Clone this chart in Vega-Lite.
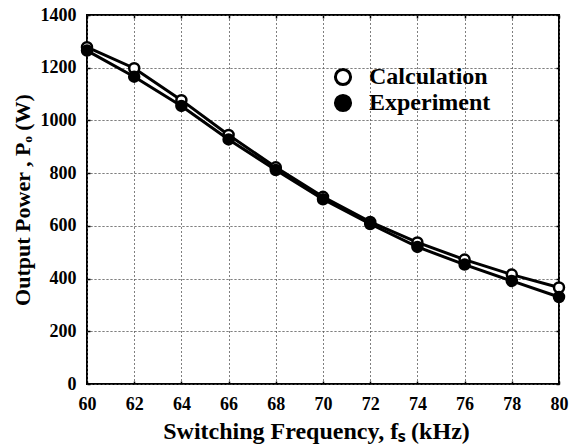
{
  "$schema": "https://vega.github.io/schema/vega-lite/v6.json",
  "autosize": {"type": "none"},
  "width": 472,
  "height": 369,
  "padding": {"left": 87, "top": 15, "right": 12, "bottom": 61},
  "background": "white",
  "config": {
    "view": {"stroke": "black", "strokeWidth": 2},
    "font": "Liberation Serif"
  },
  "data": {"values": [
    {"f": 60, "P": 1278, "series": "Calculation"},
    {"f": 62, "P": 1198, "series": "Calculation"},
    {"f": 64, "P": 1077, "series": "Calculation"},
    {"f": 66, "P": 945, "series": "Calculation"},
    {"f": 68, "P": 822, "series": "Calculation"},
    {"f": 70, "P": 710, "series": "Calculation"},
    {"f": 72, "P": 615, "series": "Calculation"},
    {"f": 74, "P": 537, "series": "Calculation"},
    {"f": 76, "P": 472, "series": "Calculation"},
    {"f": 78, "P": 415, "series": "Calculation"},
    {"f": 80, "P": 366, "series": "Calculation"},
    {"f": 60, "P": 1265, "series": "Experiment"},
    {"f": 62, "P": 1166, "series": "Experiment"},
    {"f": 64, "P": 1055, "series": "Experiment"},
    {"f": 66, "P": 928, "series": "Experiment"},
    {"f": 68, "P": 812, "series": "Experiment"},
    {"f": 70, "P": 701, "series": "Experiment"},
    {"f": 72, "P": 607, "series": "Experiment"},
    {"f": 74, "P": 520, "series": "Experiment"},
    {"f": 76, "P": 453, "series": "Experiment"},
    {"f": 78, "P": 391, "series": "Experiment"},
    {"f": 80, "P": 330, "series": "Experiment"}
  ]},
  "resolve": {"axis": {"x": "independent", "y": "independent"}},
  "layer": [
    {
      "mark": {"type": "line", "color": "black", "strokeWidth": 3},
      "encoding": {
        "x": {"field": "f", "type": "quantitative", "scale": {"domain": [60, 80], "nice": false},
              "axis": {"values": [60,62,64,66,68,70,72,74,76,78,80], "format": "d", "title": "Switching Frequency, fₛ (kHz)",
                       "labelFont": "Liberation Serif", "labelFontWeight": "bold", "labelFontSize": 18, "labelColor": "black", "labelFlush": false,
                       "titleFont": "Liberation Serif", "titleFontWeight": "bold", "titleFontSize": 24, "titleColor": "black",
                       "grid": true, "gridColor": "#555555", "gridDash": [1, 3], "gridWidth": 1, "gridOpacity": 1,
                       "domain": false, "ticks": true, "tickColor": "black", "tickSize": -3, "tickWidth": 1.5,
                       "labelPadding": 14, "titleX": 229, "titleY": 54, "titleBaseline": "alphabetic"}},
        "y": {"field": "P", "type": "quantitative", "scale": {"domain": [0, 1400], "nice": false},
              "axis": {"values": [0,200,400,600,800,1000,1200,1400], "format": "d", "title": "Output Power , Pₒ (W)",
                       "labelFont": "Liberation Serif", "labelFontWeight": "bold", "labelFontSize": 18, "labelColor": "black", "labelFlush": false,
                       "titleFont": "Liberation Serif", "titleFontWeight": "bold", "titleFontSize": 22, "titleColor": "black",
                       "grid": true, "gridColor": "#555555", "gridDash": [1, 3], "gridWidth": 1, "gridOpacity": 1,
                       "domain": false, "ticks": true, "tickColor": "black", "tickSize": -3, "tickWidth": 1.5,
                       "labelPadding": 14, "titleX": -58, "titleBaseline": "alphabetic"}},
        "detail": {"field": "series"}
      }
    },
    {
      "mark": {"type": "point", "filled": true, "stroke": "black", "strokeWidth": 2.5, "size": 100, "opacity": 1},
      "encoding": {
        "x": {"field": "f", "type": "quantitative",
              "axis": {"orient": "top", "values": [60,62,64,66,68,70,72,74,76,78,80], "labels": false, "title": null,
                       "grid": true, "gridColor": "#555555", "gridDash": [1, 3], "gridWidth": 1, "gridOpacity": 1,
                       "domain": false, "ticks": true, "tickColor": "black", "tickSize": -3, "tickWidth": 1.5}},
        "y": {"field": "P", "type": "quantitative",
              "axis": {"orient": "right", "values": [0,200,400,600,800,1000,1200,1400], "labels": false, "title": null,
                       "grid": true, "gridColor": "#555555", "gridDash": [1, 3], "gridWidth": 1, "gridOpacity": 1,
                       "domain": false, "ticks": true, "tickColor": "black", "tickSize": -3, "tickWidth": 1.5}},
        "fill": {"field": "series", "type": "nominal", "scale": {"domain": ["Calculation", "Experiment"], "range": ["white", "black"]},
                 "legend": {"title": null, "orient": "none", "legendX": 244, "legendY": 50, "symbolSize": 230, "symbolStrokeWidth": 3, "symbolStrokeColor": "black", "rowPadding": -4, "labelOffset": 14,
                            "labelFont": "Liberation Serif", "labelFontWeight": "bold", "labelFontSize": 24, "labelColor": "black"}}
      }
    }
  ]
}
